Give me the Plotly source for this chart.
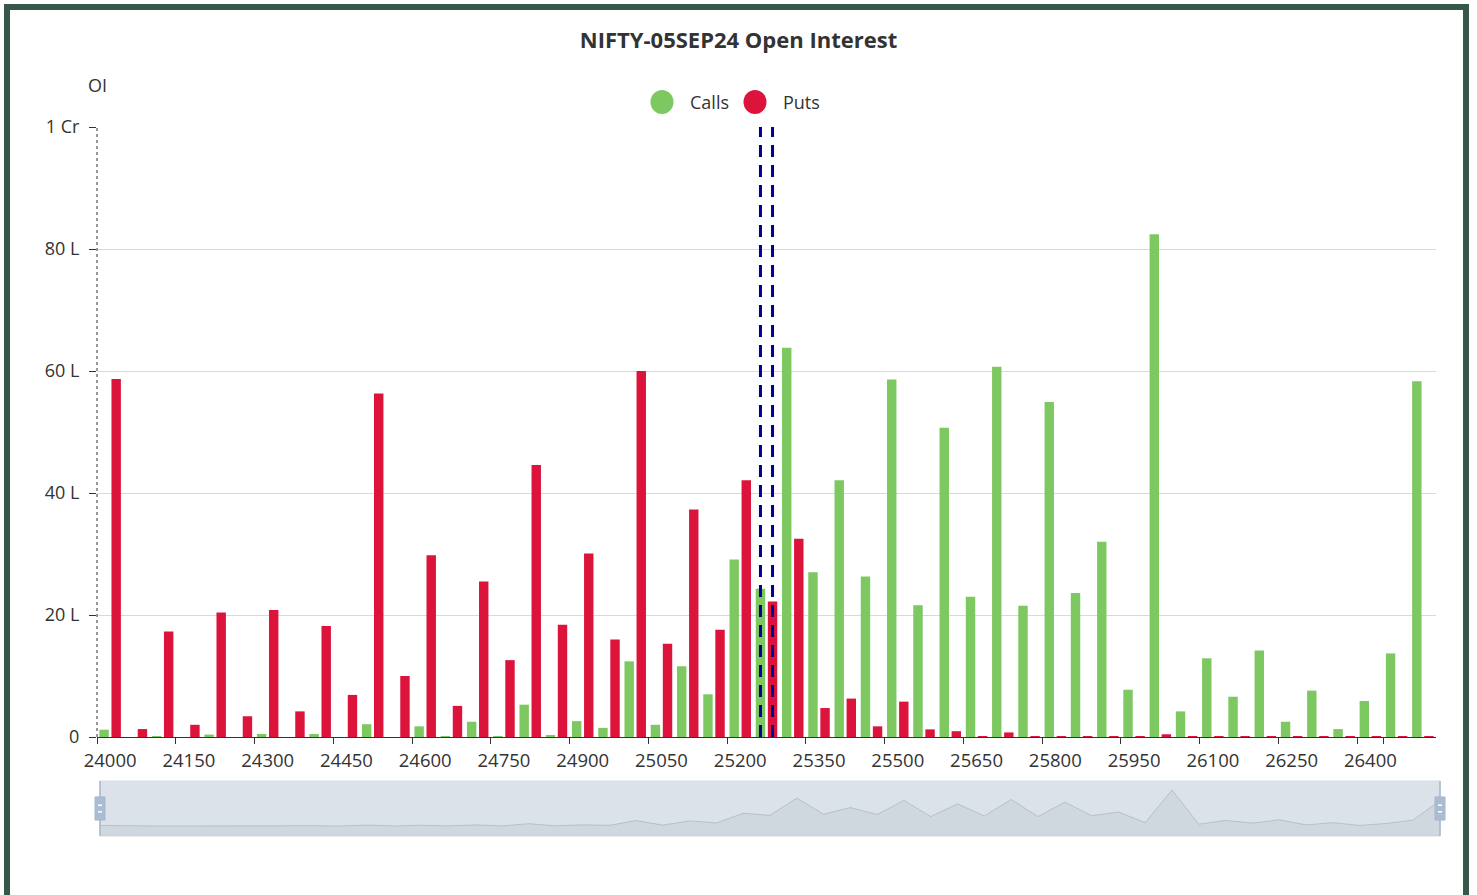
import plotly.graph_objects as go

# ---------------- data (OI in lakhs) ----------------
strikes = [str(s) for s in range(24000, 26501, 50)]
calls = [1.2, 0, 0.15, 0, 0.4, 0, 0.5, 0, 0.5, 0,
         2.1, 0, 1.75, 0.15, 2.5, 0.15, 5.3, 0.3, 2.6, 1.5,
         12.4, 2.0, 11.6, 7.0, 29.1, 24.3, 63.8, 27.0, 42.1, 26.3,
         58.6, 21.6, 50.7, 23.0, 60.7, 21.5, 54.9, 23.6, 32.0, 7.75,
         82.4, 4.2, 12.9, 6.6, 14.2, 2.5, 7.6, 1.3, 5.9, 13.7,
         58.3]
puts = [58.7, 1.3, 17.3, 2.0, 20.4, 3.4, 20.8, 4.2, 18.2, 6.9,
        56.3, 10.0, 29.8, 5.1, 25.5, 12.6, 44.6, 18.4, 30.1, 16.0,
        60.0, 15.3, 37.3, 17.6, 42.1, 22.2, 32.5, 4.75, 6.3, 1.75,
        5.8, 1.25, 0.95, 0.15, 0.75, 0.1, 0.15, 0.1, 0.05, 0.15,
        0.45, 0.05, 0.05, 0.05, 0.05, 0.05, 0.05, 0.05, 0.05, 0.05,
        0.05]
spot_strike = "25250"
x_tick_labels = strikes[::3]
y_tick_vals = [0, 20, 40, 60, 80, 100]
y_tick_text = ["0", "20 L", "40 L", "60 L", "80 L", "1 Cr"]

GREEN = "#7ec862"
RED = "#dc143c"
FONT = "Open Sans"
TXT = "#333333"

# ---------------- geometry helpers ----------------
W, H = 1477, 895
ML, MR, MT, MB = 97, 37, 127, 59
PW = W - ML - MR
PH = H - MT - MB


def px(xp):
    return (xp - ML) / PW


def py(yp):
    return (H - MB - yp) / PH


fig = go.Figure()
fig.add_trace(go.Bar(x=strikes, y=calls, name="Calls", marker_color=GREEN,
                     marker_line_width=0, showlegend=False))
fig.add_trace(go.Bar(x=strikes, y=puts, name="Puts", marker_color=RED,
                     marker_line_width=0, showlegend=False))

# data-zoom shadow (calls series)
fig.add_trace(go.Scatter(x=strikes, y=calls, xaxis="x2", yaxis="y2",
                         mode="lines", line=dict(color="rgba(47,69,84,0.18)", width=1),
                         fill="tozeroy", fillcolor="rgba(47,69,84,0.07)",
                         showlegend=False, hoverinfo="skip"))

shapes = []
# slider background
shapes.append(dict(type="rect", xref="x2 domain", yref="y2 domain", x0=0, x1=1, y0=0, y1=1,
                   fillcolor="#dce2ea", line=dict(color="#d6dbe3", width=1), layer="below"))
shapes.append(dict(type="rect", xref="x2 domain", yref="y2", x0=0, x1=1, y0=-23, y1=0,
                   fillcolor="rgba(47,69,84,0.07)", line=dict(width=0), layer="below"))
# slider edge lines and handles
for xa in (0, 1):
    shapes.append(dict(type="line", xref="x2 domain", yref="y2 domain", x0=xa, x1=xa, y0=0, y1=1,
                       line=dict(color="#a7b7cc", width=1.5)))
    shapes.append(dict(type="rect", xref="x2 domain", yref="y2 domain", xsizemode="pixel",
                       xanchor=xa, x0=-5, x1=5, y0=0.29, y1=0.71,
                       fillcolor="#abbcd2", line=dict(color="#a7b7cc", width=1)))
    for yy in (0.44, 0.56):
        shapes.append(dict(type="line", xref="x2 domain", yref="y2 domain", xsizemode="pixel",
                           xanchor=xa, x0=-2, x1=2, y0=yy, y1=yy,
                           line=dict(color="white", width=1.5)))

# dotted y axis line
shapes.append(dict(type="line", xref="x domain", yref="y", x0=0, x1=0, y0=0, y1=100,
                   line=dict(color="#333333", width=1, dash="dot")))

# spot markers (dashed) on the calls and puts bars of the spot strike
si = strikes.index(spot_strike)
for off in (-0.23, 0.23):
    shapes.append(dict(type="line", xref="x", yref="y", x0=si + off, x1=si + off, y0=0, y1=100,
                       line=dict(color="#00008b", width=3, dash="12px,8px"), layer="above"))

# manual legend circles
for cx, col in ((662, GREEN), (755, RED)):
    shapes.append(dict(type="circle", xref="paper", yref="paper",
                       xsizemode="pixel", ysizemode="pixel",
                       xanchor=px(cx), yanchor=py(102), x0=-11.5, x1=11.5, y0=-12, y1=12,
                       fillcolor=col, line=dict(width=0)))

# outer frame
shapes.append(dict(type="rect", xref="paper", yref="paper",
                   x0=px(7), x1=px(1466), y0=py(7), y1=py(898),
                   line=dict(color="#375849", width=6), fillcolor="rgba(0,0,0,0)"))

annotations = [
    dict(text="OI", xref="paper", yref="paper", x=px(97), y=py(85), showarrow=False,
         xanchor="center", yanchor="middle", font=dict(family=FONT, size=18, color=TXT)),
    dict(text="Calls", xref="paper", yref="paper", x=px(688), y=py(102), showarrow=False,
         xanchor="left", yanchor="middle", font=dict(family=FONT, size=18, color=TXT)),
    dict(text="Puts", xref="paper", yref="paper", x=px(781), y=py(102), showarrow=False,
         xanchor="left", yanchor="middle", font=dict(family=FONT, size=18, color=TXT)),
]

fig.update_layout(
    width=W, height=H,
    margin=dict(l=ML, r=MR, t=MT, b=MB, pad=0),
    paper_bgcolor="white", plot_bgcolor="white",
    barmode="group", bargap=0.08, bargroupgap=0.22,
    title=dict(text="<b>NIFTY-05SEP24 Open Interest</b>", x=0.5, xanchor="center",
               y=1 - 40 / H, yanchor="middle", font=dict(family=FONT, size=22, color=TXT)),
    font=dict(family=FONT, size=18, color=TXT),
    xaxis=dict(type="category", domain=[0, px(1436)], anchor="y",
               tickmode="array", tickvals=x_tick_labels, ticktext=x_tick_labels,
               tickangle=0, ticklabelstandoff=7,
               tickson="boundaries", ticks="outside", ticklen=6, tickcolor="#333333",
               showline=True, linecolor="#333333", linewidth=1, showgrid=False,
               tickfont=dict(family=FONT, size=18.5, color=TXT), fixedrange=True),
    yaxis=dict(domain=[py(737), 1], range=[0, 100], tickmode="array",
               tickvals=y_tick_vals, ticktext=y_tick_text,
               ticks="outside", ticklen=7, tickcolor="#333333", ticklabelstandoff=6,
               showline=False, showgrid=True, gridcolor="#d9d9d9", gridwidth=1,
               zeroline=False, tickfont=dict(family=FONT, size=18, color=TXT), fixedrange=True),
    xaxis2=dict(type="category", domain=[px(100), 1], anchor="y2", range=[0, len(strikes) - 1],
                visible=False, fixedrange=True),
    yaxis2=dict(domain=[0, py(781)], anchor="x2", range=[-23, 103], visible=False, fixedrange=True),
    shapes=shapes,
    annotations=annotations,
    showlegend=False,
)

fig.write_html("out.html", config={"displayModeBar": False},
               post_script="document.body.style.margin='0';document.body.style.overflow='hidden';")
